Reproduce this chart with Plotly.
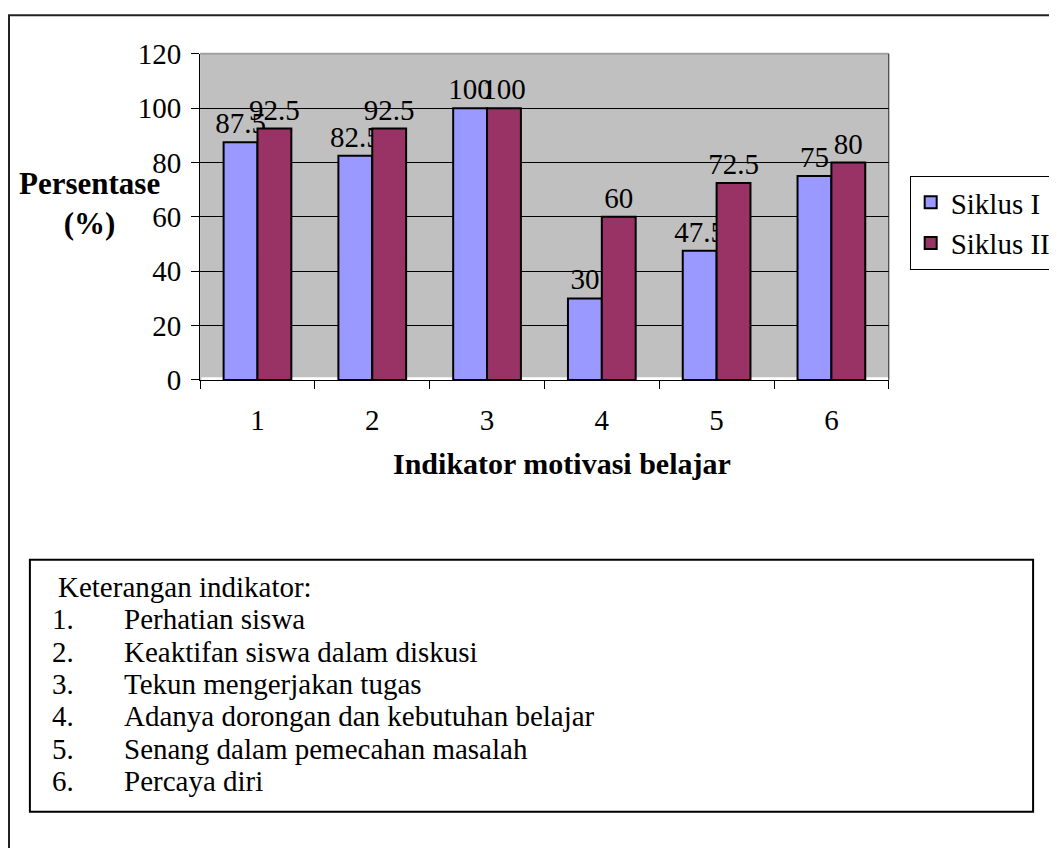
import plotly.graph_objects as go

# ---- data ----
categories = ["1", "2", "3", "4", "5", "6"]
siklus1 = [87.5, 82.5, 100, 30, 47.5, 75]
siklus2 = [92.5, 92.5, 100, 60, 72.5, 80]
series_names = ["Siklus I", "Siklus II"]
series_colors = ["#9999FF", "#993366"]
y_ticks = [0, 20, 40, 60, 80, 100, 120]
x_title = "Indikator motivasi belajar"
y_title_lines = ["Persentase", "(%)"]
note_title = "Keterangan indikator:"
note_numbers = ["1.", "2.", "3.", "4.", "5.", "6."]
note_items = [
    "Perhatian siswa",
    "Keaktifan siswa dalam diskusi",
    "Tekun mengerjakan tugas",
    "Adanya dorongan dan kebutuhan belajar",
    "Senang dalam pemecahan masalah",
    "Percaya diri",
]

# page offset of the figure inside the html page
OFF_X, OFF_Y = 8, 18
W, H = 1057 - OFF_X, 858 - OFF_Y
FONT = "Times New Roman, Liberation Serif, serif"


def px(x):
    return (x - OFF_X) / W


def py(y):
    return 1 - (y - OFF_Y) / H


fig = go.Figure()
for name, vals, color in zip(series_names, [siklus1, siklus2], series_colors):
    fig.add_trace(go.Bar(
        x=categories, y=vals, name=name,
        marker=dict(color=color, line=dict(color="black", width=2)),
        text=[f"{v:g}" for v in vals], textposition="outside",
        textfont=dict(family=FONT, size=29, color="black"),
        constraintext="none", cliponaxis=False,
    ))

PL, PR, PT, PB = 201, 893, 49, 388

fig.update_layout(
    width=W, height=H, margin=dict(l=0, r=0, t=0, b=0),
    paper_bgcolor="white", plot_bgcolor="#C0C0C0",
    barmode="group", bargap=0.41, bargroupgap=0,
    font=dict(family=FONT, size=29, color="black"),
    xaxis=dict(domain=[px(PL), px(PR)], type="category", showline=True,
               linecolor="black", linewidth=1, ticks="outside", ticklen=8,
               tickcolor="black", tickson="boundaries", showgrid=False,
               tickfont=dict(family=FONT, size=29, color="black"),
               ticklabelstandoff=14, fixedrange=True),
    yaxis=dict(domain=[py(PB), py(PT)], range=[0, 120], tickvals=y_ticks,
               showline=True, linecolor="black", linewidth=1, ticks="outside",
               ticklen=8, tickcolor="black", showgrid=True, gridcolor="black",
               gridwidth=1, zeroline=False,
               tickfont=dict(family=FONT, size=29, color="black"),
               ticklabelstandoff=4, fixedrange=True),
    legend=dict(x=px(914), y=py(176), xanchor="left", yanchor="top",
                bordercolor="black", borderwidth=1, bgcolor="white",
                font=dict(family=FONT, size=29, color="black"),
                tracegroupgap=0),
    showlegend=True,
)

shapes = [
    # outer page frame (left and top visible)
    dict(type="rect", xref="paper", yref="paper", x0=px(9), x1=px(1080),
         y0=py(9), y1=py(900), line=dict(color="#222222", width=2),
         layer="below"),
    # white floor strip just above 0
    dict(type="rect", xref="x domain", yref="y", x0=0.002, x1=1, y0=0, y1=1.0,
         fillcolor="white", line=dict(width=0), layer="below"),
    # plot area top border (gray)
    dict(type="line", xref="paper", yref="paper", x0=px(PL), x1=px(PR),
         y0=py(PT), y1=py(PT), line=dict(color="#A0A0A0", width=2),
         layer="above"),
    # plot area right border
    dict(type="line", xref="paper", yref="paper", x0=px(PR), x1=px(PR),
         y0=py(PT), y1=py(PB), line=dict(color="#202020", width=1),
         layer="above"),
    # note text box
    dict(type="rect", xref="paper", yref="paper", x0=px(30), x1=px(1038),
         y0=py(575), y1=py(837), line=dict(color="black", width=2),
         layer="below"),
]

annotations = [
    dict(xref="paper", yref="paper", x=px(565), y=py(475), xanchor="center",
         yanchor="middle", showarrow=False, text=f"<b>{x_title}</b>",
         font=dict(family=FONT, size=30, color="black")),
    dict(xref="paper", yref="paper", x=px(90), y=py(205), xanchor="center",
         yanchor="middle", showarrow=False,
         text="<br>".join(f"<b>{t}</b>" for t in y_title_lines),
         font=dict(family=FONT, size=31, color="black")),
    dict(xref="paper", yref="paper", x=px(56), y=py(603), xanchor="left",
         yanchor="middle", showarrow=False, text=note_title,
         font=dict(family=FONT, size=29, color="black")),
]
line_y0, line_step = 637, 33.6
for i, (num, item) in enumerate(zip(note_numbers, note_items)):
    yy = line_y0 + i * line_step
    annotations.append(dict(xref="paper", yref="paper", x=px(50), y=py(yy),
                            xanchor="left", yanchor="middle", showarrow=False,
                            text=num, font=dict(family=FONT, size=29, color="black")))
    annotations.append(dict(xref="paper", yref="paper", x=px(123), y=py(yy),
                            xanchor="left", yanchor="middle", showarrow=False,
                            text=item, font=dict(family=FONT, size=29, color="black")))

fig.update_layout(shapes=shapes, annotations=annotations)
fig.write_html("out.html")
